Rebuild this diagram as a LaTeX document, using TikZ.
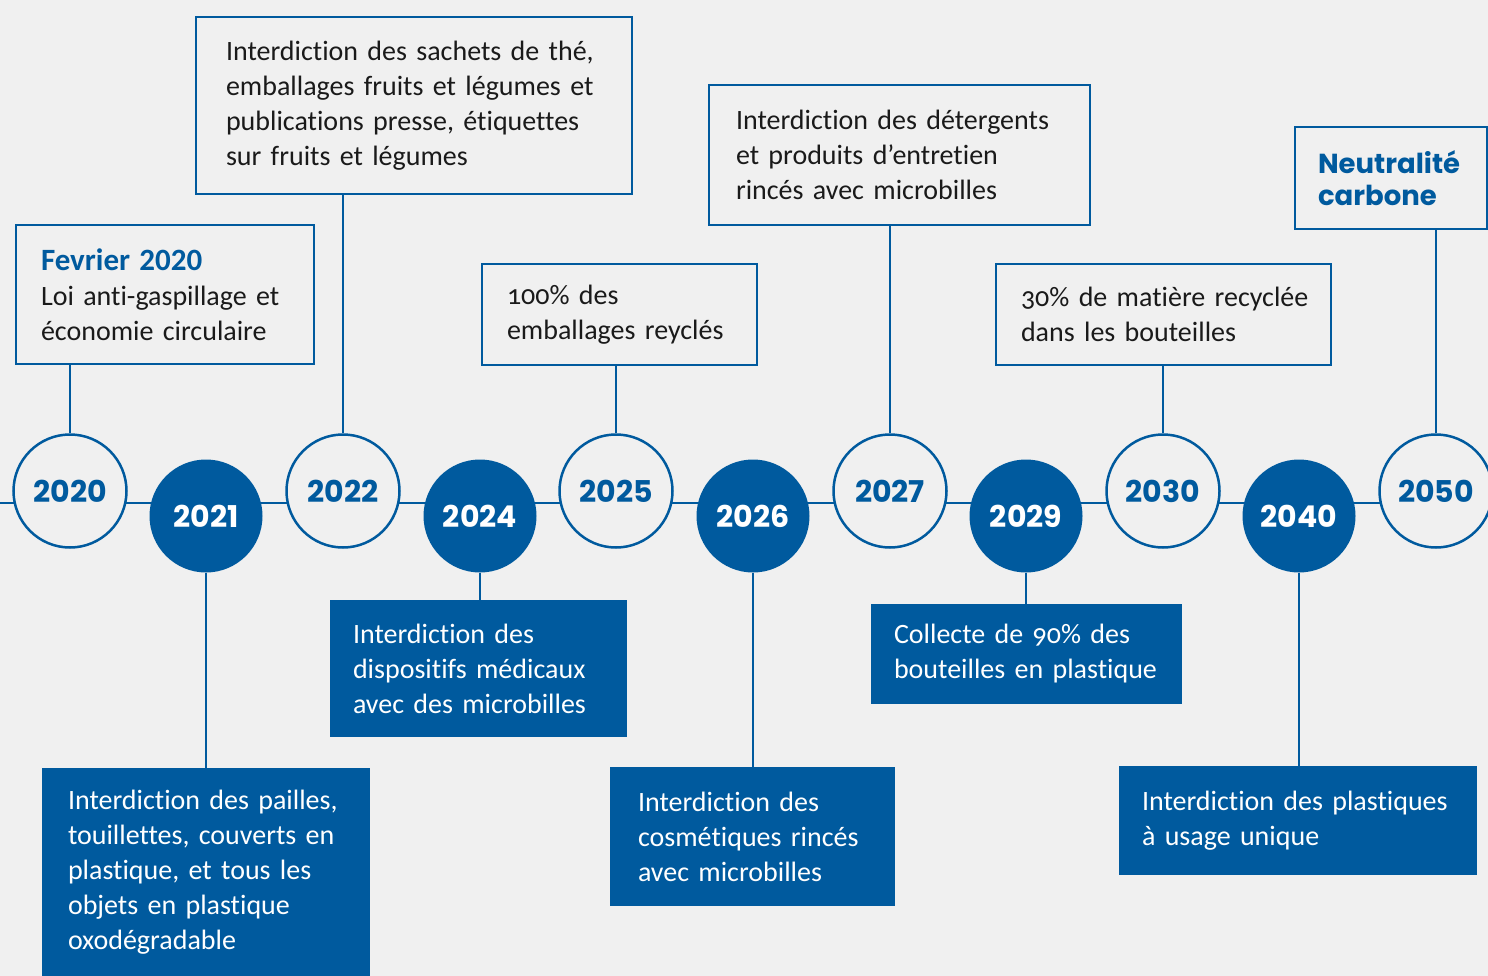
\documentclass[tikz,border=0pt]{standalone}
\usepackage{fontspec}
\setmainfont{Carlito}[Numbers=OldStyle, Ligatures=NoCommon, WordSpace=0.85]
\newfontfamily\yearfont{Poppins}[Numbers=Lining]
\definecolor{frblue}{HTML}{005A9E}
\definecolor{paper}{HTML}{F0F0F0}
\definecolor{ink}{HTML}{1A1A1A}
\tikzset{
  yearring/.style={circle, draw=frblue, line width=2.5pt, fill=paper, minimum size=113pt, inner sep=0pt,
    text=frblue, font=\yearfont\bfseries\fontsize{30}{30}\selectfont},
  yeardot/.style={circle, fill=frblue, minimum size=113pt, inner sep=0pt,
    text=white, font=\yearfont\bfseries\fontsize{30}{30}\selectfont},
  boxtext/.style={inner xsep=0pt, inner ysep=0pt, align=left, font=\fontsize{28}{35}\selectfont,
    execute at begin node={\rightskip=-60pt plus 1fil\hyphenpenalty=10000\relax}},
  topbox/.style={boxtext, draw=frblue, line width=2.5pt, fill=paper, text=ink},
  lowbox/.style={boxtext, fill=frblue, text=white},
  link/.style={draw=frblue, line width=2.5pt},
}
\begin{document}
\begin{tikzpicture}[x=1pt, y=-1pt]
  \fill[paper] (0,0) rectangle (1488,976);
  \useasboundingbox (0,0) rectangle (1488,976);

  % timeline axis
  \coordinate (axis west) at (0,503);
  \coordinate (axis east) at (1488,503);
  \draw[link] (axis west) -- (axis east);

  % years
  \node[yearring] (y2020) at (70,491) {2020};
  \node[yeardot]  (y2021) at (206,516) {2021};
  \node[yearring] (y2022) at (343,491) {2022};
  \node[yeardot]  (y2024) at (480,516) {2024};
  \node[yearring] (y2025) at (616,491) {2025};
  \node[yeardot]  (y2026) at (753,516) {2026};
  \node[yearring] (y2027) at (890,491) {2027};
  \node[yeardot]  (y2029) at (1026,516) {2029};
  \node[yearring] (y2030) at (1163,491) {2030};
  \node[yeardot]  (y2040) at (1299,516) {2040};
  \node[yearring] (y2050) at (1436,491) {2050};

  % events above the axis
  \node[topbox, minimum width=298pt, minimum height=139pt, text width=248pt] (e2020) at (165,294.5)
    {{\fontsize{31}{35}\selectfont\bfseries\addfontfeatures{Numbers=Lining}\color{frblue}Fevrier 2020}\\Loi anti-gaspillage et\\économie circulaire};
  \node[topbox, minimum width=436pt, minimum height=177pt, text width=376pt] (e2022) at (414,105.5)
    {Interdiction des sachets de thé,\\emballages fruits et légumes et\\publications presse, étiquettes\\sur fruits et légumes};
  \node[topbox, minimum width=275pt, minimum height=101pt, text width=225pt] (e2025) at (619.5,314.5)
    {100\% des\\emballages reyclés};
  \node[topbox, minimum width=381pt, minimum height=140pt, text width=327pt] (e2027) at (899.5,155)
    {Interdiction des détergents\\et produits d’entretien\\rincés avec microbilles};
  \node[topbox, minimum width=335pt, minimum height=101pt, text width=285pt] (e2030) at (1163.5,314.5)
    {30\% de matière recyclée\\dans les bouteilles};
  \node[topbox, minimum width=192pt, minimum height=102pt, text width=146pt, text=frblue,
    font=\yearfont\bfseries\fontsize{27.5}{32}\selectfont] (e2050) at (1391,178)
    {Neutralité\\carbone};

  % events below the axis
  \node[lowbox, minimum width=328pt, minimum height=208pt, text width=276pt] (e2021) at (206,872)
    {Interdiction des pailles,\\touillettes, couverts en\\plastique, et tous les\\objets en plastique\\oxodégradable};
  \node[lowbox, minimum width=297pt, minimum height=137pt, text width=251pt] (e2024) at (478.5,668.5)
    {Interdiction des\\dispositifs médicaux\\avec des microbilles};
  \node[lowbox, minimum width=285pt, minimum height=139pt, text width=229pt] (e2026) at (752.5,836.5)
    {Interdiction des\\cosmétiques rincés\\avec microbilles};
  \node[lowbox, minimum width=311pt, minimum height=100pt, text width=265pt] (e2029) at (1026.5,654)
    {Collecte de 90\% des\\bouteilles en plastique};
  \node[lowbox, minimum width=358pt, minimum height=109pt, text width=312pt] (e2040) at (1298,820.5)
    {Interdiction des plastiques\\à usage unique};

  % links
  \draw[link] (y2020.north) -- (y2020.north |- e2020.south);
  \draw[link] (y2022.north) -- (y2022.north |- e2022.south);
  \draw[link] (y2025.north) -- (y2025.north |- e2025.south);
  \draw[link] (y2027.north) -- (y2027.north |- e2027.south);
  \draw[link] (y2030.north) -- (y2030.north |- e2030.south);
  \draw[link] (y2050.north) -- (y2050.north |- e2050.south);
  \draw[link] (y2021.south) -- (y2021.south |- e2021.north);
  \draw[link] (y2024.south) -- (y2024.south |- e2024.north);
  \draw[link] (y2026.south) -- (y2026.south |- e2026.north);
  \draw[link] (y2029.south) -- (y2029.south |- e2029.north);
  \draw[link] (y2040.south) -- (y2040.south |- e2040.north);
\end{tikzpicture}
\end{document}
